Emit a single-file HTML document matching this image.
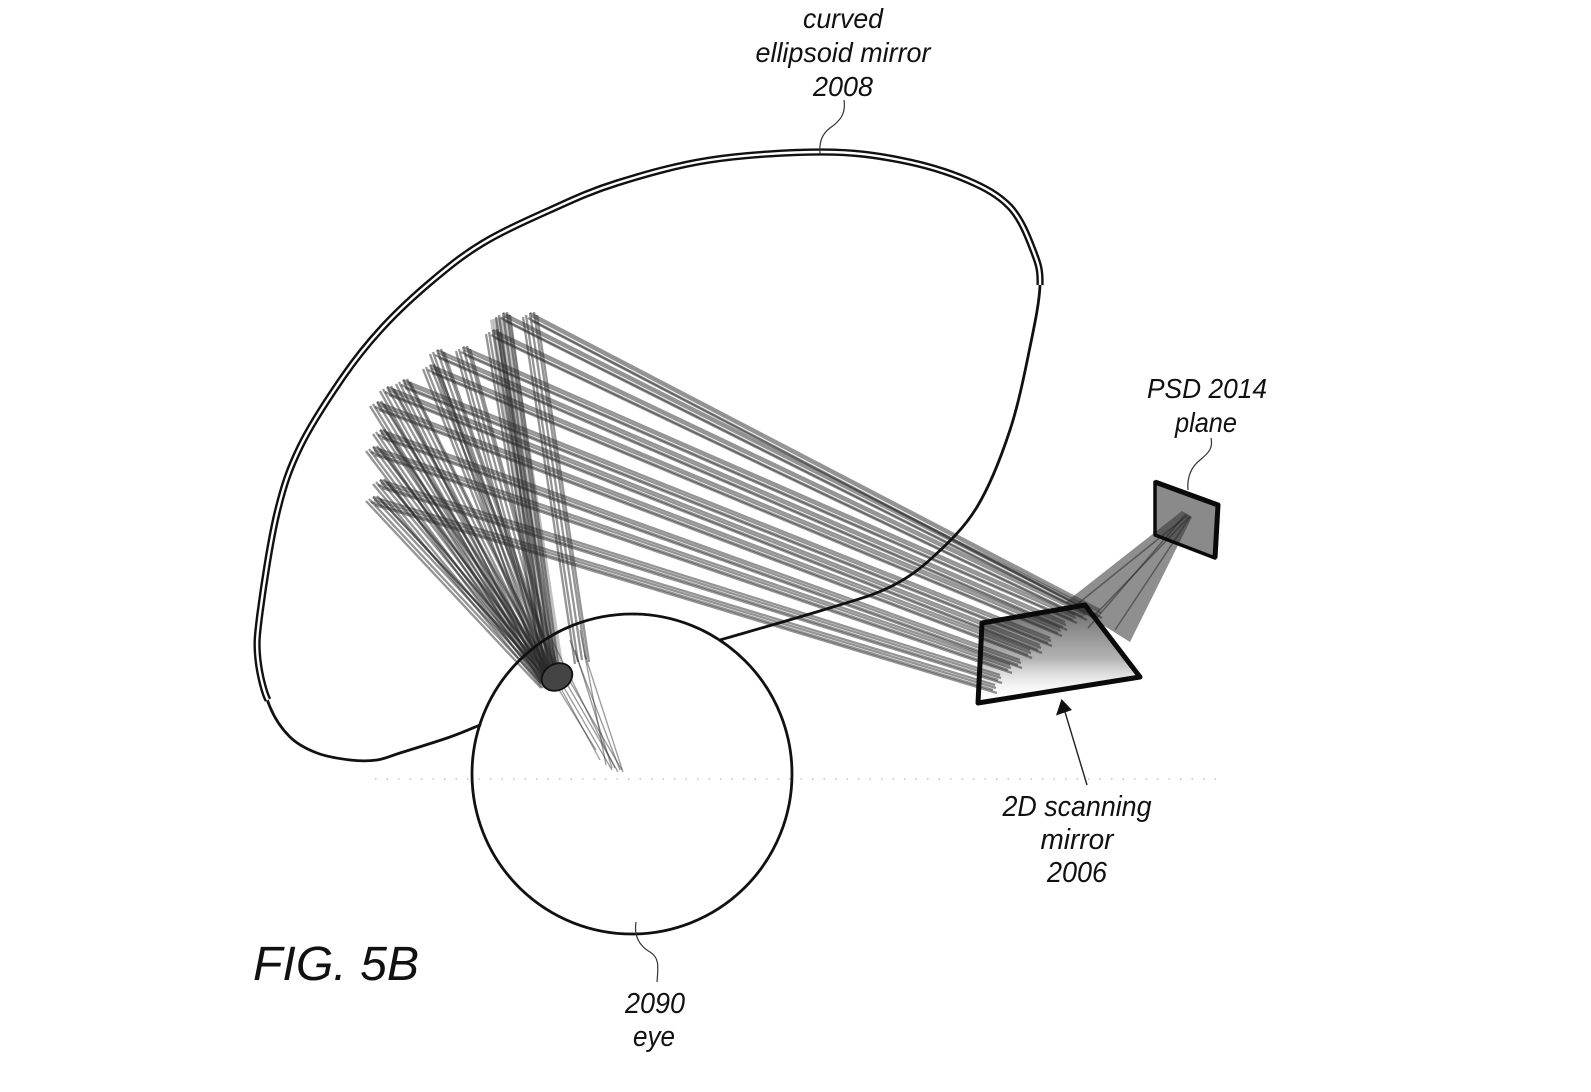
<!DOCTYPE html>
<html>
<head>
<meta charset="utf-8">
<style>
  html,body{margin:0;padding:0;background:#fff;}
  svg{display:block;}
  .lbl{font-family:"Liberation Sans",Arial,sans-serif;font-style:italic;fill:#111;}
</style>
</head>
<body>
<svg width="1591" height="1092" viewBox="0 0 1591 1092" xmlns="http://www.w3.org/2000/svg">
  <rect width="1591" height="1092" fill="#fff"/>
  <defs>
    <linearGradient id="mg" x1="0" y1="0" x2="0" y2="1">
      <stop offset="0" stop-color="#333" stop-opacity="0.75"/>
      <stop offset="0.55" stop-color="#666" stop-opacity="0.5"/>
      <stop offset="1" stop-color="#fff" stop-opacity="0"/>
    </linearGradient>
    <g id="sc">
      <line x1="530" y1="313" x2="1100" y2="610"/>
      <line x1="503" y1="313" x2="1090" y2="608"/>
      <line x1="493" y1="330" x2="1085" y2="612"/>
      <line x1="463" y1="347" x2="1075" y2="615"/>
      <line x1="437" y1="350" x2="1065" y2="622"/>
      <line x1="430" y1="365" x2="1060" y2="628"/>
      <line x1="403" y1="380" x2="1050" y2="638"/>
      <line x1="387" y1="387" x2="1040" y2="645"/>
      <line x1="377" y1="402" x2="1030" y2="650"/>
      <line x1="380" y1="430" x2="1020" y2="660"/>
      <line x1="373" y1="447" x2="1010" y2="665"/>
      <line x1="380" y1="480" x2="1000" y2="675"/>
      <line x1="373" y1="497" x2="995" y2="685"/>
    </g>
    <g id="pu">
      <line x1="530" y1="313" x2="582" y2="660"/>
      <line x1="503" y1="313" x2="552" y2="668"/>
      <line x1="493" y1="330" x2="550" y2="670"/>
      <line x1="463" y1="347" x2="552" y2="672"/>
      <line x1="437" y1="350" x2="550" y2="672"/>
      <line x1="430" y1="365" x2="552" y2="674"/>
      <line x1="403" y1="380" x2="550" y2="676"/>
      <line x1="387" y1="387" x2="548" y2="676"/>
      <line x1="377" y1="402" x2="548" y2="678"/>
      <line x1="380" y1="430" x2="550" y2="680"/>
      <line x1="373" y1="447" x2="548" y2="680"/>
      <line x1="380" y1="480" x2="550" y2="684"/>
      <line x1="373" y1="497" x2="548" y2="684"/>
    </g>
    <path id="dblp" d="M1040,285 C1040.5,268.8 1038,263 1033,250 C1028,237 1021,218.7 1010,207 C999,195.3 985.3,187.8 967,180 C948.7,172.2 924.2,164.7 900,160 C875.8,155.3 853.7,152 822,152 C790.3,152 744.2,154.8 710,160 C675.8,165.2 643.7,174.7 617,183 C590.3,191.3 572.3,200 550,210 C527.7,220 502.5,231.3 483,243 C463.5,254.7 449.7,266 433,280 C416.3,294 398,310.8 383,327 C368,343.2 356.8,357 343,377 C329.2,397 311,424.3 300,447 C289,469.7 283.7,485.3 277,513 C270.3,540.7 263.2,588.5 260,613 C256.8,637.5 256.3,644.3 258,660 C259.7,675.7 264.7,694.2 268,700"/>
  </defs>

  <!-- dotted horizontal line -->
  <line x1="375" y1="779" x2="1223" y2="779" stroke="#b5b5b5" stroke-width="1.3" stroke-dasharray="1.5,10"/>

  <!-- scanning mirror fill -->
  <polygon points="982,623 1085,605 1140,677 978,703" fill="url(#mg)"/>

  <!-- PSD fill -->
  <polygon points="1155,482 1218,505 1215,558 1155,535" fill="#8a8a8a"/>

  <!-- dense central band -->
  <polygon points="490,320 510,314 563,664 540,668" fill="#333" fill-opacity="0.3"/>

  <!-- rays -->
  <g stroke="#2a2a2a" stroke-opacity="0.5" stroke-width="2.3" fill="none">
    <use href="#sc"/>
    <use href="#sc" transform="translate(1,3)"/>
    <use href="#sc" transform="translate(-2,5)"/>
    <use href="#sc" transform="translate(2,8)"/>
    <use href="#pu"/>
    <use href="#pu" transform="translate(4,-1)"/>
    <use href="#pu" transform="translate(-4,2)"/>
    <use href="#pu" transform="translate(7,2)"/>
    <use href="#pu" transform="translate(-7,4)"/>
  </g>
  <!-- cone into eye -->
  <g stroke="#333" stroke-opacity="0.5" stroke-width="1.3">
    <line x1="545" y1="655" x2="612" y2="770"/>
    <line x1="556" y1="665" x2="618" y2="772"/>
    <line x1="562" y1="668" x2="622" y2="770"/>
    <line x1="570" y1="640" x2="620" y2="770"/>
    <line x1="580" y1="630" x2="606" y2="765"/>
    <line x1="540" y1="650" x2="600" y2="760"/>
    <line x1="585" y1="655" x2="623" y2="772"/>
    <line x1="552" y1="640" x2="615" y2="768"/>
    <line x1="548" y1="672" x2="596" y2="750"/>
    <line x1="575" y1="650" x2="612" y2="768"/>
  </g>

  <!-- cone scanner to PSD -->
  <polygon points="1066,602 1130,642 1192,517 1182,511" fill="#333" fill-opacity="0.55"/>
  <g stroke="#222" stroke-opacity="0.5" stroke-width="1.5">
    <line x1="1075" y1="606" x2="1188" y2="515"/>
    <line x1="1095" y1="615" x2="1190" y2="516"/>
    <line x1="1115" y1="630" x2="1190" y2="517"/>
    <line x1="1088" y1="628" x2="1186" y2="514"/>
  </g>

  <!-- pupil -->
  <ellipse cx="557" cy="677" rx="16" ry="13" transform="rotate(-30 557 677)" fill="#444" stroke="#111" stroke-width="1.8"/>

  <!-- mirror outline single -->
  <path d="M720,640 C738.8,634.5 804.7,615.8 833,607 C861.3,598.2 873.3,595.3 890,587 C906.7,578.7 918.5,570.3 933,557 C947.5,543.7 964.2,528.2 977,507 C989.8,485.8 1001.2,456.7 1010,430 C1018.8,403.3 1025,371.2 1030,347 C1035,322.8 1039.5,301.2 1040,285 C1040.5,268.8 1038,263 1033,250 C1028,237 1021,218.7 1010,207 C999,195.3 985.3,187.8 967,180 C948.7,172.2 924.2,164.7 900,160 C875.8,155.3 853.7,152 822,152 C790.3,152 744.2,154.8 710,160 C675.8,165.2 643.7,174.7 617,183 C590.3,191.3 572.3,200 550,210 C527.7,220 502.5,231.3 483,243 C463.5,254.7 449.7,266 433,280 C416.3,294 398,310.8 383,327 C368,343.2 356.8,357 343,377 C329.2,397 311,424.3 300,447 C289,469.7 283.7,485.3 277,513 C270.3,540.7 263.2,588.5 260,613 C256.8,637.5 256.3,644.3 258,660 C259.7,675.7 264.7,694.2 270,707 C275.3,719.8 282.2,729.3 290,737 C297.8,744.7 307,749.2 317,753 C327,756.8 340,758.8 350,760 C360,761.2 368.7,761.2 377,760 C385.3,758.8 387.8,756.8 400,753 C412.2,749.2 436.7,741.7 450,737 C463.3,732.3 475,727 480,725" fill="none" stroke="#111" stroke-width="2.8" stroke-linecap="round"/>
  <!-- double line section -->
  <use href="#dblp" fill="none" stroke="#111" stroke-width="7.2"/>
  <use href="#dblp" fill="none" stroke="#fff" stroke-width="2.4"/>

  <!-- eye circle -->
  <circle cx="632" cy="774" r="160" fill="none" stroke="#111" stroke-width="2.8"/>

  <!-- scanning mirror border -->
  <polygon points="982,623 1085,605 1140,677 978,703" fill="none" stroke="#0a0a0a" stroke-width="5" stroke-linejoin="round"/>

  <!-- PSD border -->
  <polygon points="1155,482 1218,505 1215,558 1155,535" fill="none" stroke="#0a0a0a" stroke-width="3.5" stroke-linejoin="round"/>
  <polyline points="1155,482 1218,505 1215,558" fill="none" stroke="#0a0a0a" stroke-width="5" stroke-linejoin="round"/>

  <!-- leaders -->
  <path d="M820,154 C819,142 822,134 830,128 C840,121 846,114 844,100" fill="none" stroke="#333" stroke-width="1.2"/>
  <path d="M1188,490 C1187,478 1190,468 1200,460 C1210,452 1213,447 1211,438" fill="none" stroke="#333" stroke-width="1.2"/>
  <path d="M636,922 C634,935 638,945 650,952 C660,958 658,968 657,982" fill="none" stroke="#333" stroke-width="1.2"/>

  <!-- arrow -->
  <line x1="1087" y1="785" x2="1065" y2="712" stroke="#222" stroke-width="1.4"/>
  <polygon points="1061.5,699 1056,715.5 1072,710" fill="#111"/>

  <!-- labels -->
  <text class="lbl" x="843" y="28" font-size="28" text-anchor="middle" textLength="80" lengthAdjust="spacingAndGlyphs">curved</text>
  <text class="lbl" x="843" y="62" font-size="28" text-anchor="middle" textLength="175" lengthAdjust="spacingAndGlyphs">ellipsoid mirror</text>
  <text class="lbl" x="843" y="96" font-size="28" text-anchor="middle" textLength="60" lengthAdjust="spacingAndGlyphs">2008</text>

  <text class="lbl" x="1207" y="398" font-size="28" text-anchor="middle" textLength="120" lengthAdjust="spacingAndGlyphs">PSD 2014</text>
  <text class="lbl" x="1206" y="432" font-size="28" text-anchor="middle" textLength="62" lengthAdjust="spacingAndGlyphs">plane</text>

  <text class="lbl" x="1077" y="816" font-size="29" text-anchor="middle" textLength="149" lengthAdjust="spacingAndGlyphs">2D scanning</text>
  <text class="lbl" x="1077" y="849" font-size="29" text-anchor="middle" textLength="73" lengthAdjust="spacingAndGlyphs">mirror</text>
  <text class="lbl" x="1077" y="882" font-size="29" text-anchor="middle" textLength="60" lengthAdjust="spacingAndGlyphs">2006</text>

  <text class="lbl" x="655" y="1013" font-size="29" text-anchor="middle" textLength="60" lengthAdjust="spacingAndGlyphs">2090</text>
  <text class="lbl" x="654" y="1046" font-size="29" text-anchor="middle" textLength="42" lengthAdjust="spacingAndGlyphs">eye</text>

  <text class="lbl" x="253" y="980" font-size="48" textLength="166" lengthAdjust="spacingAndGlyphs">FIG. 5B</text>
</svg>
</body>
</html>
